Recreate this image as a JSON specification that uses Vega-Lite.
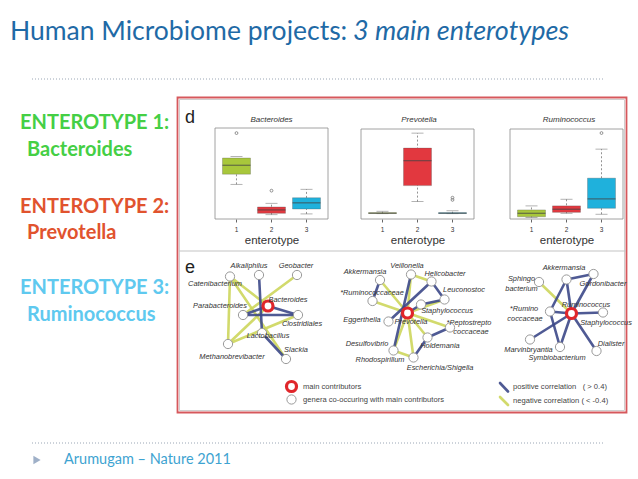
{
  "$schema": "https://vega.github.io/schema/vega-lite/v6.json",
  "width": 638,
  "height": 479,
  "padding": 0,
  "autosize": {"type": "none"},
  "background": "white",
  "config": {
    "view": {"stroke": null},
    "axis": {"grid": false, "labelFont": "Liberation Sans", "titleFont": "Liberation Sans", "labelColor": "#333", "titleColor": "#333", "tickColor": "#666", "titleFontWeight": "normal", "domain": false}
  },
  "datasets": {
    "title": [
      {"style": "normal", "text": "Human Microbiome projects:", "x": 10, "y": 40},
      {"style": "italic", "text": "3 main enterotypes", "x": 353, "y": 40}
    ],
    "rules": [
      {"kind": "dotted", "x": 32, "x2": 605, "y": 79},
      {"kind": "dotted", "x": 32, "x2": 605, "y": 443},
      {"kind": "separator", "x": 179, "x2": 626, "y": 251}
    ],
    "frames": [
      {"kind": "outer", "x": 177.5, "x2": 626.5, "y": 97.5, "y2": 412.5},
      {"kind": "inner", "x": 179.5, "x2": 624.5, "y": 99.5, "y2": 410.5},
      {"kind": "plot", "x": 215, "x2": 328, "y": 128, "y2": 219},
      {"kind": "plot", "x": 361, "x2": 474, "y": 129, "y2": 219},
      {"kind": "plot", "x": 510, "x2": 623, "y": 129, "y2": 219}
    ],
    "enterotype_labels": [
      {"enterotype": "1", "text": "ENTEROTYPE 1:", "x": 20, "y": 129},
      {"enterotype": "1", "text": "Bacteroides", "x": 27, "y": 156},
      {"enterotype": "2", "text": "ENTEROTYPE 2:", "x": 20, "y": 212.5},
      {"enterotype": "2", "text": "Prevotella", "x": 27, "y": 239},
      {"enterotype": "3", "text": "ENTEROTYPE 3:", "x": 20, "y": 294},
      {"enterotype": "3", "text": "Ruminococcus", "x": 27, "y": 321}
    ],
    "panel_letters": [
      {"text": "d", "x": 185, "y": 123},
      {"text": "e", "x": 185, "y": 273}
    ],
    "plot_titles": [
      {"text": "Bacteroides", "x": 271.5, "y": 120},
      {"text": "Prevotella", "x": 419, "y": 120},
      {"text": "Ruminococcus", "x": 569, "y": 120}
    ],
    "footer": [
      {"kind": "marker", "x": 37, "y": 460, "text": ""},
      {"kind": "credit", "x": 64, "y": 460, "text": "Arumugam – Nature 2011"}
    ],
    "nodes": [
      {"id": "1-Alkaliphilus", "role": "other", "x": 259, "y": 275},
      {"id": "1-Geobacter", "role": "other", "x": 297, "y": 275},
      {"id": "1-Catenibacterium", "role": "other", "x": 230, "y": 276.5},
      {"id": "1-Bacteroides", "role": "main", "x": 268, "y": 306},
      {"id": "1-Parabacteroides", "role": "other", "x": 243, "y": 315},
      {"id": "1-Clostridiales", "role": "other", "x": 298, "y": 315},
      {"id": "1-Lactobacillus", "role": "other", "x": 262, "y": 333},
      {"id": "1-Methanobrevibacter", "role": "other", "x": 228, "y": 344},
      {"id": "1-Slackia", "role": "other", "x": 286, "y": 359},
      {"id": "2-Akkermansia", "role": "other", "x": 380, "y": 280},
      {"id": "2-Veillonella", "role": "other", "x": 411, "y": 274.5},
      {"id": "2-Helicobacter", "role": "other", "x": 431.5, "y": 281.5},
      {"id": "2-Ruminococcaceae", "role": "other", "x": 372.5, "y": 301},
      {"id": "2-Leuconostoc", "role": "other", "x": 444.5, "y": 299.5},
      {"id": "2-Staphylococcus", "role": "other", "x": 421, "y": 304.5},
      {"id": "2-Prevotella", "role": "main", "x": 407.5, "y": 313},
      {"id": "2-Eggerthella", "role": "other", "x": 388.5, "y": 321.5},
      {"id": "2-Peptostreptococcaceae", "role": "other", "x": 450, "y": 327.5},
      {"id": "2-Holdemania", "role": "other", "x": 427.5, "y": 337.5},
      {"id": "2-Desulfovibrio", "role": "other", "x": 393.5, "y": 350.5},
      {"id": "2-Rhodospirillum", "role": "other", "x": 413.5, "y": 357.5},
      {"id": "3-Akkermansia", "role": "other", "x": 566.5, "y": 279.5},
      {"id": "3-Gordonibacter", "role": "other", "x": 593.5, "y": 274},
      {"id": "3-Sphingobacterium", "role": "other", "x": 539, "y": 282},
      {"id": "3-Ruminococcus", "role": "main", "x": 571.5, "y": 313.5},
      {"id": "3-Ruminococcaceae", "role": "other", "x": 550, "y": 311.5},
      {"id": "3-Staphylococcus", "role": "other", "x": 603, "y": 312.5},
      {"id": "3-Marvinbryantia", "role": "other", "x": 530, "y": 339.5},
      {"id": "3-Symbiobacterium", "role": "other", "x": 560, "y": 347},
      {"id": "3-Dialister", "role": "other", "x": 596.5, "y": 351}
    ],
    "edges": [
      {"source": "1-Catenibacterium", "target": "1-Bacteroides", "correlation": "negative"},
      {"source": "1-Catenibacterium", "target": "1-Slackia", "correlation": "negative"},
      {"source": "1-Geobacter", "target": "1-Parabacteroides", "correlation": "negative"},
      {"source": "1-Methanobrevibacter", "target": "1-Bacteroides", "correlation": "negative"},
      {"source": "1-Methanobrevibacter", "target": "1-Catenibacterium", "correlation": "negative"},
      {"source": "1-Methanobrevibacter", "target": "1-Clostridiales", "correlation": "negative"},
      {"source": "1-Alkaliphilus", "target": "1-Lactobacillus", "correlation": "positive"},
      {"source": "1-Parabacteroides", "target": "1-Bacteroides", "correlation": "positive"},
      {"source": "1-Parabacteroides", "target": "1-Clostridiales", "correlation": "positive"},
      {"source": "1-Bacteroides", "target": "1-Clostridiales", "correlation": "positive"},
      {"source": "1-Lactobacillus", "target": "1-Slackia", "correlation": "positive"},
      {"source": "2-Prevotella", "target": "2-Akkermansia", "correlation": "negative"},
      {"source": "2-Prevotella", "target": "2-Ruminococcaceae", "correlation": "negative"},
      {"source": "2-Prevotella", "target": "2-Leuconostoc", "correlation": "negative"},
      {"source": "2-Prevotella", "target": "2-Peptostreptococcaceae", "correlation": "negative"},
      {"source": "2-Prevotella", "target": "2-Holdemania", "correlation": "negative"},
      {"source": "2-Prevotella", "target": "2-Desulfovibrio", "correlation": "negative"},
      {"source": "2-Prevotella", "target": "2-Rhodospirillum", "correlation": "negative"},
      {"source": "2-Prevotella", "target": "2-Veillonella", "correlation": "negative"},
      {"source": "2-Veillonella", "target": "2-Helicobacter", "correlation": "negative"},
      {"source": "2-Desulfovibrio", "target": "2-Rhodospirillum", "correlation": "negative"},
      {"source": "2-Akkermansia", "target": "2-Ruminococcaceae", "correlation": "positive"},
      {"source": "2-Helicobacter", "target": "2-Eggerthella", "correlation": "positive"},
      {"source": "2-Veillonella", "target": "2-Desulfovibrio", "correlation": "positive"},
      {"source": "2-Helicobacter", "target": "2-Leuconostoc", "correlation": "positive"},
      {"source": "2-Staphylococcus", "target": "2-Leuconostoc", "correlation": "positive"},
      {"source": "2-Peptostreptococcaceae", "target": "2-Holdemania", "correlation": "positive"},
      {"source": "2-Holdemania", "target": "2-Rhodospirillum", "correlation": "positive"},
      {"source": "2-Prevotella", "target": "2-Staphylococcus", "correlation": "positive"},
      {"source": "3-Sphingobacterium", "target": "3-Ruminococcus", "correlation": "negative"},
      {"source": "3-Ruminococcus", "target": "3-Akkermansia", "correlation": "positive"},
      {"source": "3-Ruminococcus", "target": "3-Gordonibacter", "correlation": "positive"},
      {"source": "3-Akkermansia", "target": "3-Gordonibacter", "correlation": "positive"},
      {"source": "3-Akkermansia", "target": "3-Ruminococcaceae", "correlation": "positive"},
      {"source": "3-Ruminococcus", "target": "3-Ruminococcaceae", "correlation": "positive"},
      {"source": "3-Ruminococcus", "target": "3-Staphylococcus", "correlation": "positive"},
      {"source": "3-Ruminococcus", "target": "3-Marvinbryantia", "correlation": "positive"},
      {"source": "3-Ruminococcus", "target": "3-Symbiobacterium", "correlation": "positive"},
      {"source": "3-Ruminococcus", "target": "3-Dialister", "correlation": "positive"},
      {"source": "3-Ruminococcaceae", "target": "3-Symbiobacterium", "correlation": "positive"}
    ],
    "node_labels": [
      {"text": "Alkaliphilus", "x": 249, "y": 266},
      {"text": "Geobacter", "x": 296, "y": 266},
      {"text": "Catenibacterium", "x": 215, "y": 283.5},
      {"text": "Bacteroides", "x": 288, "y": 300},
      {"text": "Parabacteroides", "x": 220, "y": 306},
      {"text": "Clostridiales", "x": 302, "y": 324},
      {"text": "Lactobacillus", "x": 268, "y": 335.5},
      {"text": "Methanobrevibacter", "x": 232, "y": 356.5},
      {"text": "Slackia", "x": 296, "y": 349.5},
      {"text": "Akkermansia", "x": 365, "y": 271.5},
      {"text": "Veillonella", "x": 407, "y": 266},
      {"text": "Helicobacter", "x": 445, "y": 274},
      {"text": "*Ruminococcaceae", "x": 372, "y": 292.5},
      {"text": "Leuconostoc", "x": 464, "y": 289.5},
      {"text": "Staphylococcus", "x": 447, "y": 311},
      {"text": "Prevotella", "x": 411, "y": 321.5},
      {"text": "Eggerthella", "x": 362, "y": 320},
      {"text": "*Peptostrepto", "x": 469, "y": 322.5},
      {"text": "coccaceae", "x": 471, "y": 331.5},
      {"text": "Desulfovibrio", "x": 367, "y": 344},
      {"text": "Holdemania", "x": 440, "y": 346},
      {"text": "Rhodospirillum", "x": 380, "y": 360},
      {"text": "Escherichia/Shigella", "x": 440, "y": 367.5},
      {"text": "Akkermansia", "x": 564, "y": 267.5},
      {"text": "Gordonibacter", "x": 603, "y": 283.5},
      {"text": "Sphingo", "x": 521.5, "y": 279},
      {"text": "bacterium", "x": 521.5, "y": 288.5},
      {"text": "Ruminococcus", "x": 586, "y": 304.5},
      {"text": "*Rumino", "x": 524, "y": 309},
      {"text": "coccaceae", "x": 525, "y": 318.5},
      {"text": "Staphylococcus", "x": 606, "y": 322.5},
      {"text": "Marvinbryantia", "x": 528.5, "y": 349.5},
      {"text": "Symbiobacterium", "x": 557, "y": 358},
      {"text": "Dialister", "x": 611, "y": 344}
    ],
    "legend_nodes": [
      {"role": "main", "x": 291.5, "y": 386.5},
      {"role": "other", "x": 291.5, "y": 399.5}
    ],
    "legend_lines": [
      {"correlation": "positive", "x": 500, "y": 383, "x2": 508, "y2": 391.5},
      {"correlation": "negative", "x": 500, "y": 397, "x2": 508, "y2": 405}
    ],
    "legend_text": [
      {"text": "main contributors", "x": 303, "y": 386.5},
      {"text": "genera co-occuring with main contributors", "x": 303, "y": 399.5},
      {"text": "positive correlation \u00a0 ( > 0.4)", "x": 513, "y": 387},
      {"text": "negative correlation ( < -0.4)", "x": 513, "y": 401}
    ],
    "boxstats": [
      {"genus": "Bacteroides", "enterotype": "1", "min": 0.197, "q1": 0.263, "median": 0.321, "q3": 0.368, "max": 0.378},
      {"genus": "Bacteroides", "enterotype": "2", "min": 0.0, "q1": 0.009, "median": 0.031, "q3": 0.05, "max": 0.074},
      {"genus": "Bacteroides", "enterotype": "3", "min": 0.005, "q1": 0.037, "median": 0.077, "q3": 0.11, "max": 0.165},
      {"genus": "Prevotella", "enterotype": "1", "min": 0.0, "q1": 0.001, "median": 0.002, "q3": 0.004, "max": 0.01},
      {"genus": "Prevotella", "enterotype": "2", "min": 0.05, "q1": 0.116, "median": 0.219, "q3": 0.271, "max": 0.333},
      {"genus": "Prevotella", "enterotype": "3", "min": 0.0, "q1": 0.001, "median": 0.002, "q3": 0.004, "max": 0.012},
      {"genus": "Ruminococcus", "enterotype": "1", "min": -0.0067, "q1": -0.0061, "median": -0.0032, "q3": -0.0004, "max": 0.003},
      {"genus": "Ruminococcus", "enterotype": "2", "min": -0.0032, "q1": -0.0024, "median": 0.0002, "q3": 0.003, "max": 0.0086},
      {"genus": "Ruminococcus", "enterotype": "3", "min": -0.004, "q1": 0.001, "median": 0.0089, "q3": 0.0263, "max": 0.0507}
    ],
    "outliers": [
      {"genus": "Bacteroides", "enterotype": "1", "value": 0.53},
      {"genus": "Bacteroides", "enterotype": "2", "value": 0.156},
      {"genus": "Prevotella", "enterotype": "3", "value": 0.057},
      {"genus": "Prevotella", "enterotype": "3", "value": 0.066},
      {"genus": "Ruminococcus", "enterotype": "3", "value": 0.0642}
    ]
  },
  "layer": [
    {
      "encoding": {
        "x": {"field": "x", "type": "quantitative", "scale": {"domain": [0, 638], "nice": false, "zero": false}, "axis": null},
        "y": {"field": "y", "type": "quantitative", "scale": {"domain": [0, 479], "nice": false, "zero": false, "reverse": true}, "axis": null}
      },
      "layer": [
        {"data": {"name": "frames"}, "transform": [{"filter": "datum.kind === 'outer'"}], "mark": {"type": "rect", "fillOpacity": 0, "stroke": "#d6585c", "strokeWidth": 1.8}, "encoding": {"x2": {"field": "x2"}, "y2": {"field": "y2"}}},
        {"data": {"name": "frames"}, "transform": [{"filter": "datum.kind === 'inner'"}], "mark": {"type": "rect", "fillOpacity": 0, "stroke": "#cfcfcf", "strokeWidth": 1}, "encoding": {"x2": {"field": "x2"}, "y2": {"field": "y2"}}},
        {"data": {"name": "frames"}, "transform": [{"filter": "datum.kind === 'plot'"}], "mark": {"type": "rect", "fillOpacity": 0, "stroke": "#8a8a8a", "strokeWidth": 0.8}, "encoding": {"x2": {"field": "x2"}, "y2": {"field": "y2"}}},
        {"data": {"name": "rules"}, "transform": [{"filter": "datum.kind === 'dotted'"}], "mark": {"type": "rule", "stroke": "#9aa6b5", "strokeWidth": 1, "strokeDash": [1, 2]}, "encoding": {"x2": {"field": "x2"}}},
        {"data": {"name": "rules"}, "transform": [{"filter": "datum.kind === 'separator'"}], "mark": {"type": "rule", "stroke": "#c4c4c4", "strokeWidth": 1.2}, "encoding": {"x2": {"field": "x2"}}},
        {"data": {"name": "title"}, "transform": [{"filter": "datum.style === 'normal'"}], "mark": {"type": "text", "align": "left", "baseline": "alphabetic", "font": "Lato", "fontSize": 26.5, "color": "#1f6aa6"}, "encoding": {"text": {"field": "text"}}},
        {"data": {"name": "title"}, "transform": [{"filter": "datum.style === 'italic'"}], "mark": {"type": "text", "align": "left", "baseline": "alphabetic", "font": "Lato", "fontSize": 27, "fontStyle": "italic", "color": "#1f6aa6"}, "encoding": {"text": {"field": "text"}}},
        {"data": {"name": "enterotype_labels"}, "mark": {"type": "text", "align": "left", "baseline": "alphabetic", "font": "Lato", "fontSize": 20, "fontWeight": "bold"}, "encoding": {"text": {"field": "text"}, "color": {"field": "enterotype", "type": "nominal", "scale": {"domain": ["1", "2", "3"], "range": ["#45cf45", "#e1532e", "#5fc9ef"]}, "legend": null}}},
        {"data": {"name": "panel_letters"}, "mark": {"type": "text", "align": "left", "baseline": "alphabetic", "font": "Liberation Sans", "fontSize": 18, "color": "#222"}, "encoding": {"text": {"field": "text"}}},
        {"data": {"name": "plot_titles"}, "mark": {"type": "text", "align": "center", "baseline": "middle", "font": "Liberation Sans", "fontSize": 8, "fontStyle": "italic", "color": "#333"}, "encoding": {"text": {"field": "text"}}},
        {"data": {"name": "edges"}, "transform": [
            {"lookup": "source", "from": {"data": {"name": "nodes"}, "key": "id", "fields": ["x", "y"]}},
            {"lookup": "target", "from": {"data": {"name": "nodes"}, "key": "id", "fields": ["x", "y"]}, "as": ["x2", "y2"]}
          ],
          "mark": {"type": "rule", "strokeWidth": 2.6, "opacity": 0.9, "strokeCap": "round"},
          "encoding": {"x2": {"field": "x2"}, "y2": {"field": "y2"}, "stroke": {"field": "correlation", "type": "nominal", "scale": {"domain": ["positive", "negative"], "range": ["#3c4888", "#cdd65c"]}, "legend": null}}},
        {"data": {"name": "legend_lines"}, "mark": {"type": "rule", "strokeWidth": 2.6, "opacity": 0.9, "strokeCap": "round"}, "encoding": {"x2": {"field": "x2"}, "y2": {"field": "y2"}, "stroke": {"field": "correlation", "type": "nominal", "legend": null}}},
        {"data": {"name": "nodes"}, "transform": [{"filter": "datum.role === 'other'"}], "mark": {"type": "point", "shape": "circle", "filled": true, "fill": "white", "stroke": "#9a9a9a", "strokeWidth": 1, "size": 85, "opacity": 1}},
        {"data": {"name": "nodes"}, "transform": [{"filter": "datum.role === 'main'"}], "mark": {"type": "point", "shape": "circle", "filled": true, "fill": "white", "stroke": "#e0262b", "strokeWidth": 3.2, "size": 100, "opacity": 1}},
        {"data": {"name": "legend_nodes"}, "transform": [{"filter": "datum.role === 'other'"}], "mark": {"type": "point", "shape": "circle", "filled": true, "fill": "white", "stroke": "#9a9a9a", "strokeWidth": 1, "size": 85, "opacity": 1}},
        {"data": {"name": "legend_nodes"}, "transform": [{"filter": "datum.role === 'main'"}], "mark": {"type": "point", "shape": "circle", "filled": true, "fill": "white", "stroke": "#e0262b", "strokeWidth": 3.2, "size": 100, "opacity": 1}},
        {"data": {"name": "node_labels"}, "mark": {"type": "text", "align": "center", "baseline": "middle", "font": "Liberation Sans", "fontSize": 7.4, "fontStyle": "italic", "color": "#333"}, "encoding": {"text": {"field": "text"}}},
        {"data": {"name": "legend_text"}, "mark": {"type": "text", "align": "left", "baseline": "middle", "font": "Liberation Sans", "fontSize": 7.6, "color": "#444"}, "encoding": {"text": {"field": "text"}}},
        {"data": {"name": "footer"}, "transform": [{"filter": "datum.kind === 'marker'"}], "mark": {"type": "point", "shape": "triangle-right", "filled": true, "color": "#9fb0c8", "size": 70, "opacity": 1}},
        {"data": {"name": "footer"}, "transform": [{"filter": "datum.kind === 'credit'"}], "mark": {"type": "text", "align": "left", "baseline": "middle", "font": "Lato", "fontSize": 14.5, "color": "#3ea3d1"}, "encoding": {"text": {"field": "text"}}}
      ]
    },
    {
      "data": {"name": "boxstats"},
      "transform": [{"filter": "datum.genus === 'Bacteroides'"}],
      "encoding": {
        "x": {"field": "enterotype", "type": "nominal", "scale": {"type": "band", "domain": ["1", "2", "3"], "range": [215, 328], "paddingInner": 0.2, "paddingOuter": 0.214}, "axis": {"orient": "bottom", "offset": -260, "title": "enterotype", "labelAngle": 0, "labelFontSize": 6.5, "tickSize": 3, "labelPadding": 4, "titleFontSize": 11.5, "titlePadding": 2}}
      },
      "layer": [
        {"mark": {"type": "rule", "strokeDash": [2, 2], "color": "#777", "strokeWidth": 0.8}, "encoding": {"y": {"field": "min", "type": "quantitative", "scale": {"domain": [-0.028, 0.563], "range": [219, 128], "nice": false, "zero": false}, "axis": {"orient": "left", "offset": -215, "values": [0.1, 0.3, 0.5], "format": ".1f", "title": "abundance", "titleFontSize": 9, "titlePadding": 3, "labelFontSize": 6, "tickSize": 3, "labelPadding": 1}}, "y2": {"field": "max"}}},
        {"mark": {"type": "tick", "color": "#777", "size": 12, "thickness": 0.8}, "encoding": {"y": {"field": "min", "type": "quantitative", "axis": null}}},
        {"mark": {"type": "tick", "color": "#777", "size": 12, "thickness": 0.8}, "encoding": {"y": {"field": "max", "type": "quantitative", "axis": null}}},
        {"mark": {"type": "bar", "stroke": "#555", "strokeWidth": 0.5, "strokeOpacity": 0.6}, "encoding": {"y": {"field": "q1", "type": "quantitative", "axis": null}, "y2": {"field": "q3"}, "color": {"field": "enterotype", "type": "nominal", "scale": {"domain": ["1", "2", "3"], "range": ["#a8c73b", "#e2383f", "#1fb1dc"]}, "legend": null}}},
        {"mark": {"type": "tick", "color": "#444", "size": 28, "thickness": 1.2}, "encoding": {"y": {"field": "median", "type": "quantitative", "axis": null}}},
        {"data": {"name": "outliers"}, "transform": [{"filter": "datum.genus === 'Bacteroides'"}], "mark": {"type": "point", "shape": "circle", "filled": false, "color": "#777", "size": 8, "strokeWidth": 0.8, "opacity": 1}, "encoding": {"y": {"field": "value", "type": "quantitative", "axis": null}}}
      ]
    },
    {
      "data": {"name": "boxstats"},
      "transform": [{"filter": "datum.genus === 'Prevotella'"}],
      "encoding": {
        "x": {"field": "enterotype", "type": "nominal", "scale": {"type": "band", "domain": ["1", "2", "3"], "range": [361, 474], "paddingInner": 0.2, "paddingOuter": 0.214}, "axis": {"orient": "bottom", "offset": -260, "title": "enterotype", "labelAngle": 0, "labelFontSize": 6.5, "tickSize": 3, "labelPadding": 4, "titleFontSize": 11.5, "titlePadding": 2}}
      },
      "layer": [
        {"mark": {"type": "rule", "strokeDash": [2, 2], "color": "#777", "strokeWidth": 0.8}, "encoding": {"y": {"field": "min", "type": "quantitative", "scale": {"domain": [-0.022, 0.35], "range": [219, 129], "nice": false, "zero": false}, "axis": {"orient": "left", "offset": -361, "values": [0.1, 0.2, 0.3], "format": ".1f", "title": null, "labelFontSize": 6, "tickSize": 3, "labelPadding": 1}}, "y2": {"field": "max"}}},
        {"mark": {"type": "tick", "color": "#777", "size": 12, "thickness": 0.8}, "encoding": {"y": {"field": "min", "type": "quantitative", "axis": null}}},
        {"mark": {"type": "tick", "color": "#777", "size": 12, "thickness": 0.8}, "encoding": {"y": {"field": "max", "type": "quantitative", "axis": null}}},
        {"mark": {"type": "bar", "stroke": "#555", "strokeWidth": 0.5, "strokeOpacity": 0.6}, "encoding": {"y": {"field": "q1", "type": "quantitative", "axis": null}, "y2": {"field": "q3"}, "color": {"field": "enterotype", "type": "nominal", "scale": {"domain": ["1", "2", "3"], "range": ["#a8c73b", "#e2383f", "#1fb1dc"]}, "legend": null}}},
        {"mark": {"type": "tick", "color": "#444", "size": 28, "thickness": 1.2}, "encoding": {"y": {"field": "median", "type": "quantitative", "axis": null}}},
        {"data": {"name": "outliers"}, "transform": [{"filter": "datum.genus === 'Prevotella'"}], "mark": {"type": "point", "shape": "circle", "filled": false, "color": "#777", "size": 8, "strokeWidth": 0.8, "opacity": 1}, "encoding": {"y": {"field": "value", "type": "quantitative", "axis": null}}}
      ]
    },
    {
      "data": {"name": "boxstats"},
      "transform": [{"filter": "datum.genus === 'Ruminococcus'"}],
      "encoding": {
        "x": {"field": "enterotype", "type": "nominal", "scale": {"type": "band", "domain": ["1", "2", "3"], "range": [510, 623], "paddingInner": 0.2, "paddingOuter": 0.214}, "axis": {"orient": "bottom", "offset": -260, "title": "enterotype", "labelAngle": 0, "labelFontSize": 6.5, "tickSize": 3, "labelPadding": 4, "titleFontSize": 11.5, "titlePadding": 2}}
      },
      "layer": [
        {"mark": {"type": "rule", "strokeDash": [2, 2], "color": "#777", "strokeWidth": 0.8}, "encoding": {"y": {"field": "min", "type": "quantitative", "scale": {"domain": [-0.008, 0.0676], "range": [219, 129], "nice": false, "zero": false}, "axis": {"orient": "left", "offset": -510, "values": [0, 0.02, 0.04, 0.06], "format": ".2f", "title": null, "labelFontSize": 6, "tickSize": 3, "labelPadding": 1}}, "y2": {"field": "max"}}},
        {"mark": {"type": "tick", "color": "#777", "size": 12, "thickness": 0.8}, "encoding": {"y": {"field": "min", "type": "quantitative", "axis": null}}},
        {"mark": {"type": "tick", "color": "#777", "size": 12, "thickness": 0.8}, "encoding": {"y": {"field": "max", "type": "quantitative", "axis": null}}},
        {"mark": {"type": "bar", "stroke": "#555", "strokeWidth": 0.5, "strokeOpacity": 0.6}, "encoding": {"y": {"field": "q1", "type": "quantitative", "axis": null}, "y2": {"field": "q3"}, "color": {"field": "enterotype", "type": "nominal", "scale": {"domain": ["1", "2", "3"], "range": ["#a8c73b", "#e2383f", "#1fb1dc"]}, "legend": null}}},
        {"mark": {"type": "tick", "color": "#444", "size": 28, "thickness": 1.2}, "encoding": {"y": {"field": "median", "type": "quantitative", "axis": null}}},
        {"data": {"name": "outliers"}, "transform": [{"filter": "datum.genus === 'Ruminococcus'"}], "mark": {"type": "point", "shape": "circle", "filled": false, "color": "#777", "size": 8, "strokeWidth": 0.8, "opacity": 1}, "encoding": {"y": {"field": "value", "type": "quantitative", "axis": null}}}
      ]
    }
  ],
  "resolve": {
    "scale": {"x": "independent", "y": "independent", "color": "independent", "stroke": "independent"},
    "axis": {"x": "independent", "y": "independent"}
  }
}
